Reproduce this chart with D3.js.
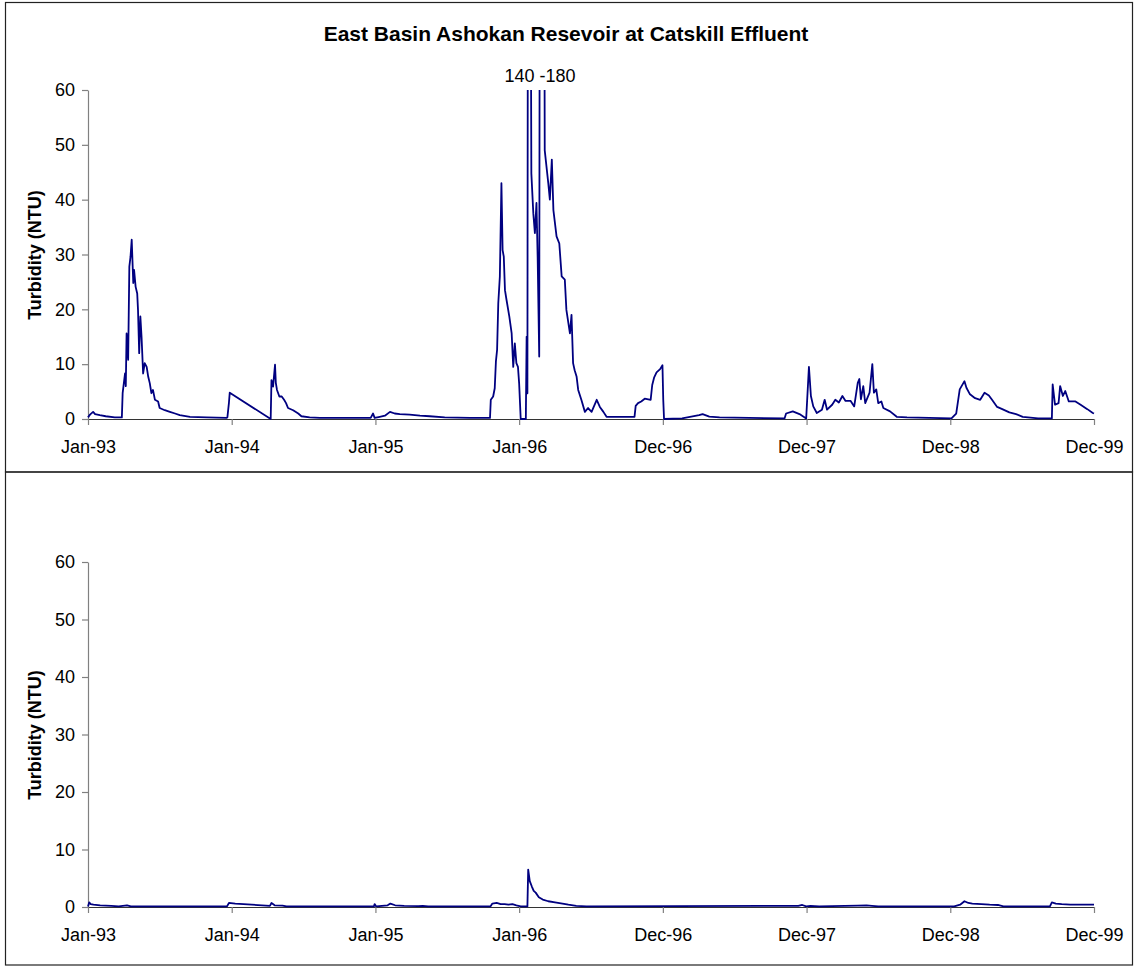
<!DOCTYPE html>
<html><head><meta charset="utf-8">
<script src="https://cdn.jsdelivr.net/npm/d3@7"></script>
<style>
html,body{margin:0;padding:0;background:#fff;}
svg{display:block;font-family:"Liberation Sans",Arial,sans-serif;}
</style></head>
<body>
<svg id="chart" width="1135" height="966"></svg>
<script>
// ---------- data ----------
const chartTitle = "East Basin Ashokan Resevoir at Catskill Effluent";
const yTitle = "Turbidity (NTU)";
const offScaleLabel = "140 -180";
const yTicks = [0, 10, 20, 30, 40, 50, 60];
const xTickDates = ["1993-01-01","1994-01-01","1995-01-01","1996-01-01","1996-12-31","1997-12-31","1998-12-31","1999-12-31"];

const topDates = ["1993-01-01","1993-01-06","1993-01-14","1993-01-19","1993-01-31","1993-02-15","1993-03-10","1993-03-28","1993-03-30","1993-04-05","1993-04-07","1993-04-09","1993-04-13","1993-04-16","1993-04-19","1993-04-22","1993-04-26","1993-04-28","1993-05-02","1993-05-06","1993-05-08","1993-05-11","1993-05-14","1993-05-17","1993-05-21","1993-05-25","1993-05-30","1993-06-03","1993-06-07","1993-06-11","1993-06-15","1993-06-20","1993-06-28","1993-07-02","1993-07-15","1993-07-28","1993-08-10","1993-08-22","1993-09-17","1993-10-29","1993-12-19","1993-12-21","1993-12-25","1993-12-27",
"1994-04-10","1994-04-12","1994-04-16","1994-04-21","1994-04-23","1994-04-26","1994-05-02","1994-05-08","1994-05-14","1994-05-19","1994-05-24","1994-06-06","1994-06-19","1994-06-27","1994-07-18","1994-08-13","1994-12-20","1994-12-26","1994-12-30",
"1995-01-12","1995-01-25","1995-02-07","1995-02-19","1995-03-04","1995-03-29","1995-04-24","1995-05-19","1995-06-26","1995-08-29","1995-10-19","1995-10-21","1995-10-27","1995-10-31","1995-11-03","1995-11-06","1995-11-09","1995-11-13","1995-11-17","1995-11-20","1995-11-23","1995-11-26","1995-11-30","1995-12-07","1995-12-13","1995-12-17","1995-12-21","1995-12-25","1995-12-29",
"1996-01-01","1996-01-05","1996-01-18","1996-01-20","1996-01-22","1996-01-24","1996-01-28","1996-02-01","1996-02-06","1996-02-10","1996-02-14","1996-02-17","1996-02-21","1996-02-24","1996-03-02","1996-03-06","1996-03-15","1996-03-19","1996-03-24","1996-03-28","1996-04-05","1996-04-12","1996-04-18","1996-04-26","1996-04-30","1996-05-09","1996-05-13","1996-05-17","1996-05-21","1996-05-26","1996-05-30","1996-06-07","1996-06-16","1996-06-24","1996-07-03","1996-07-16","1996-07-24","1996-08-02","1996-08-10","1996-10-20","1996-10-23","1996-10-29","1996-11-06","1996-11-15","1996-11-30","1996-12-04","1996-12-09","1996-12-15","1996-12-24","1996-12-30",
"1997-01-01","1997-01-03","1997-02-18","1997-04-02","1997-04-11","1997-04-28","1997-05-24","1997-11-05","1997-11-09","1997-11-26","1997-12-13","1997-12-30",
"1998-01-06","1998-01-11","1998-01-17","1998-01-26","1998-02-08","1998-02-15","1998-02-21","1998-03-06","1998-03-14","1998-03-23","1998-04-01","1998-04-09","1998-04-22","1998-05-01","1998-05-10","1998-05-14","1998-05-18","1998-05-24","1998-05-29","1998-06-09","1998-06-16","1998-06-20","1998-06-26","1998-07-01","1998-07-09","1998-07-14","1998-07-31","1998-08-17","1998-09-12",
"1999-01-03","1999-01-15","1999-01-24","1999-02-05","1999-02-10","1999-02-19","1999-03-04","1999-03-17","1999-03-28","1999-04-08","1999-04-16","1999-04-29","1999-05-12","1999-05-30","1999-06-16","1999-07-03","1999-08-11","1999-09-15","1999-09-17","1999-09-23","1999-10-02","1999-10-06","1999-10-13","1999-10-19","1999-10-28","1999-11-14","1999-11-27","1999-12-14","1999-12-28","1999-12-31"];

const topValues = [0.3,0.8,1.3,0.9,0.7,0.5,0.3,0.3,4.7,8.3,6.0,15.6,10.8,27.8,29.6,32.7,24.8,27.2,24.1,22.9,19.9,12.0,18.7,15.0,8.3,10.2,9.5,7.7,6.5,4.7,5.3,3.5,3.2,2.0,1.6,1.3,1.0,0.7,0.4,0.3,0.2,0.3,3.0,4.8,
0.0,7.1,5.9,9.9,6.6,5.3,4.1,4.1,3.5,2.9,2.0,1.6,1.0,0.5,0.3,0.2,0.2,1.0,0.2,
0.4,0.6,1.3,1.0,0.9,0.8,0.6,0.5,0.3,0.2,0.2,3.5,4.1,5.6,10.5,12.6,21.1,26,43,30.8,29.6,23.5,21.7,18.7,15.6,9.5,13.8,10.2,9.5,
6.5,0,0,15,4.7,140,140,44.8,37.5,33.9,39.4,29.6,11.4,180,180,49,43,40,47.3,38.1,33.3,32,26,25.4,19.9,15.6,19.0,10.2,8.9,7.7,5.3,3.5,1.3,2.0,1.3,3.5,2.2,1.3,0.4,0.4,2.4,2.9,3.2,3.7,3.5,6.2,7.6,8.5,9.1,9.8,
3.5,0.0,0.1,0.7,0.9,0.45,0.3,0.1,1.0,1.4,0.9,0.1,
9.5,4.2,2.3,1.1,1.7,3.5,1.7,2.6,3.5,3.0,4.2,3.3,3.3,2.3,6.6,7.3,3.6,6.0,2.9,4.8,10.0,4.8,5.4,2.9,3.2,2.0,1.4,0.4,0.3,
0.1,1.0,5.4,6.9,5.7,4.5,3.8,3.5,4.8,4.3,3.5,2.2,1.8,1.2,0.9,0.4,0.1,0.1,6.3,2.6,2.9,6.0,4.2,5.1,3.2,3.2,2.6,1.8,1.1,1.0];

const bottomDates = ["1993-01-01","1993-01-04","1993-01-08","1993-01-15","1993-02-01","1993-03-01","1993-03-20","1993-04-10","1993-04-20","1993-12-20","1993-12-25","1994-01-10","1994-04-08","1994-04-12","1994-04-20","1994-05-10","1994-05-20","1994-12-28","1994-12-30","1995-01-03","1995-02-01","1995-02-08","1995-02-20","1995-03-15","1995-04-20","1995-05-01","1995-05-15","1995-10-20","1995-10-25","1995-11-05","1995-11-15","1995-11-25","1995-12-05","1995-12-15","1995-12-25","1996-01-05","1996-01-22","1996-01-24","1996-01-28","1996-02-02","1996-02-07","1996-02-12","1996-02-20","1996-03-01","1996-03-15","1996-04-01","1996-04-20","1996-05-05","1996-05-25","1996-06-20","1997-12-10","1997-12-20","1997-12-30","1998-01-10","1998-02-01","1998-05-10","1998-06-01","1998-06-15","1998-07-01","1999-01-10","1999-01-25","1999-02-05","1999-02-15","1999-02-25","1999-03-20","1999-04-10","1999-05-01","1999-05-15","1999-09-10","1999-09-15","1999-09-25","1999-10-10","1999-11-01","1999-12-31"];
const bottomValues = [0.1,0.8,0.5,0.4,0.3,0.2,0.1,0.3,0.1,0.1,0.7,0.6,0.2,0.7,0.3,0.25,0.1,0.1,0.5,0.1,0.3,0.6,0.3,0.2,0.15,0.2,0.1,0.1,0.6,0.7,0.5,0.5,0.4,0.5,0.3,0.1,0.1,6.5,4.5,3.6,2.8,2.5,1.7,1.3,1.0,0.8,0.6,0.4,0.2,0.1,0.2,0.35,0.1,0.2,0.1,0.25,0.3,0.2,0.1,0.1,0.4,1.0,0.7,0.6,0.5,0.4,0.35,0.1,0.1,0.8,0.6,0.5,0.4,0.4];

// ---------- drawing ----------
const parse = d3.timeParse("%Y-%m-%d");
const svg = d3.select("#chart");
const W = 1135, H = 966;
svg.append("rect").attr("width", W).attr("height", H).attr("fill", "#fff");

// panel borders
svg.append("rect").attr("x", 5.5).attr("y", 2.5).attr("width", 1127).attr("height", 469.5)
  .attr("fill", "none").attr("stroke", "#222").attr("stroke-width", 1.2);
svg.append("rect").attr("x", 5.5).attr("y", 472).attr("width", 1127).attr("height", 493)
  .attr("fill", "none").attr("stroke", "#222").attr("stroke-width", 1.2);

const x = d3.scaleTime()
  .domain([parse("1993-01-01"), parse("1999-12-31")])
  .range([88, 1094]);

function panel(id, yTop, yBottom, dates, values, titleY) {
  const y = d3.scaleLinear().domain([0, 60]).range([yBottom, yTop]);
  const g = svg.append("g");

  g.append("clipPath").attr("id", "clip" + id)
    .append("rect").attr("x", 80).attr("y", yTop).attr("width", 1030).attr("height", yBottom - yTop + 2);

  const ya = g.append("g").attr("transform", "translate(88,0)")
    .call(d3.axisLeft(y).tickValues(yTicks).tickSize(6).tickSizeOuter(0).tickPadding(7));
  ya.select(".domain").attr("stroke", "#808080").attr("stroke-width", 1.2);
  ya.selectAll(".tick line").attr("stroke", "#808080").attr("stroke-width", 1.2);
  ya.selectAll("text").attr("font-size", 18).attr("fill", "#000")
    .attr("font-family", "Liberation Sans, Arial, sans-serif");

  const xa = g.append("g").attr("transform", `translate(0,${yBottom})`)
    .call(d3.axisBottom(x).tickValues(xTickDates.map(parse))
      .tickFormat(d3.timeFormat("%b-%y")).tickSize(6).tickSizeOuter(0).tickPadding(15));
  xa.select(".domain").attr("stroke", "#333").attr("stroke-width", 1.2);
  xa.selectAll(".tick line").attr("stroke", "#808080").attr("stroke-width", 1.2);
  xa.selectAll("text").attr("font-size", 18).attr("fill", "#000")
    .attr("font-family", "Liberation Sans, Arial, sans-serif");

  const data = dates.map((d, i) => ({ date: parse(d), value: values[i] }));
  const line = d3.line().x(d => x(d.date)).y(d => y(d.value));
  g.append("path").datum(data)
    .attr("clip-path", `url(#clip${id})`)
    .attr("fill", "none").attr("stroke", "#000080").attr("stroke-width", 1.8)
    .attr("stroke-linejoin", "round").attr("d", line);

  g.append("text")
    .attr("transform", `translate(41,${titleY}) rotate(-90)`)
    .attr("text-anchor", "middle").attr("font-size", 18).attr("font-weight", "bold")
    .text(yTitle);
  return y;
}

panel("top", 90, 419, topDates, topValues, 255);
panel("bottom", 562, 907, bottomDates, bottomValues, 735);

svg.append("text").attr("x", 566).attr("y", 41).attr("text-anchor", "middle")
  .attr("font-size", 21).attr("font-weight", "bold").text(chartTitle);
svg.append("text").attr("x", 540).attr("y", 82).attr("text-anchor", "middle")
  .attr("font-size", 18).text(offScaleLabel);
</script>
</body></html>
